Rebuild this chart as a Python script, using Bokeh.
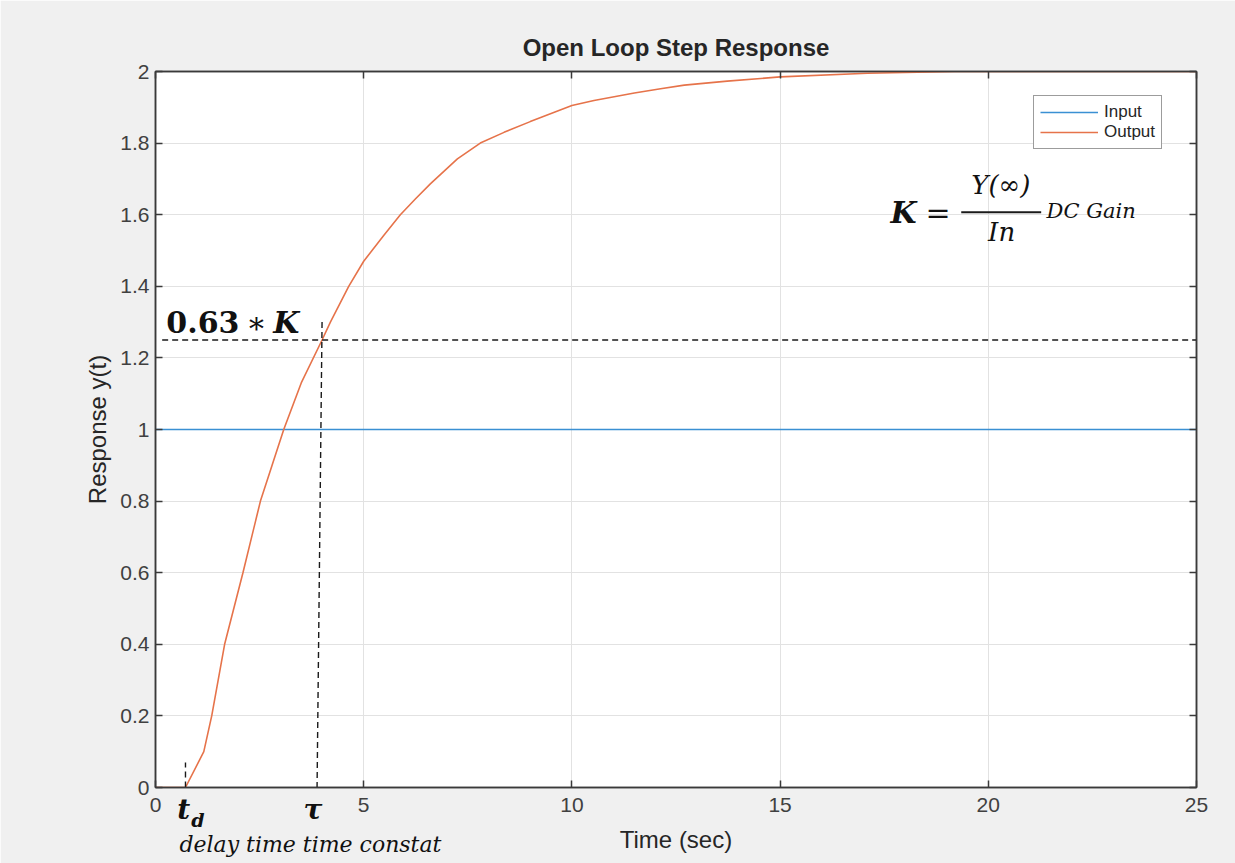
from bokeh.plotting import figure
from bokeh.models import Range1d, LinearAxis, FixedTicker, Label, Legend, LegendItem
from bokeh.embed import file_html
from bokeh.resources import INLINE

# ---- data ----
t_in = [0, 25]
y_in = [1, 1]

t_out = [0, 0.72, 1.16, 1.35, 1.66, 2.1, 2.52, 2.8, 3.08, 3.5, 4.0, 4.2, 4.64, 5.0, 5.48, 5.88,
         6.24, 6.6, 7.25, 7.8, 8.37, 9.0, 10.0, 10.53, 11.5, 12.13, 12.7, 13.73, 15.0, 17.1, 19.2, 25]
y_out = [0, 0, 0.10, 0.20, 0.40, 0.60, 0.80, 0.90, 1.00, 1.13, 1.25, 1.30, 1.40, 1.47, 1.542, 1.60,
         1.644, 1.686, 1.756, 1.80, 1.83, 1.86, 1.905, 1.919, 1.94, 1.952, 1.962, 1.973, 1.985, 1.995, 2.0, 2.0]

x_ticks = [0, 5, 10, 15, 20, 25]
x_tick_labels = ["0", "5", "10", "15", "20", "25"]
y_ticks = [0, 0.2, 0.4, 0.6, 0.8, 1.0, 1.2, 1.4, 1.6, 1.8, 2.0]
y_tick_labels = ["0", "0.2", "0.4", "0.6", "0.8", "1", "1.2", "1.4", "1.6", "1.8", "2"]

gain_level = 1.25          # 0.63*K
td = 0.72                  # delay time
tau_top = [4.0, 1.30]
tau_bottom = [3.88, 0.0]

title = "Open Loop Step Response"
x_label = "Time (sec)"
y_label = "Response y(t)"
series_names = ["Input", "Output"]

# annotation texts under the time axis, at the times they mark
sym_pos = [0.677, 3.78]
sym_txt = ["t", "\u03c4"]
sub_pos = [1.02]
sub_txt = ["d"]
note_pos = [3.72]
note_txt = ["delay time time constat"]
xlabel_pos = [12.5]

BLUE = "#3a90d3"
ORANGE = "#e6734a"
AX = "#3a3a3a"
TXT = "#262626"
SANS = "Liberation Sans"
SERIF = "DejaVu Serif"

p = figure(width=1235, height=863, output_backend="svg", toolbar_location=None,
           x_range=Range1d(0, 25), y_range=Range1d(0, 2),
           min_border_left=155, min_border_right=39, min_border_top=71, min_border_bottom=76,
           background_fill_color="white", border_fill_color="#f0f0f0",
           outline_line_color=AX, outline_line_width=1.5)

p.title.text = title
p.title.align = "center"
p.title.text_font = SANS
p.title.text_font_size = "24px"
p.title.text_font_style = "bold"
p.title.text_color = TXT
p.title.standoff = 22

xt = FixedTicker(ticks=x_ticks)
yt = FixedTicker(ticks=y_ticks)
p.xgrid.ticker = xt
p.ygrid.ticker = yt
p.grid.grid_line_color = "#e2e2e2"
p.grid.grid_line_width = 1

p.add_layout(LinearAxis(), "above")
p.add_layout(LinearAxis(), "right")

for ax in p.xaxis:
    ax.ticker = xt
    ax.major_label_overrides = {v: s for v, s in zip(x_ticks, x_tick_labels)}
for ax in p.yaxis:
    ax.ticker = yt
    ax.major_label_overrides = {v: s for v, s in zip(y_ticks, y_tick_labels)}

for ax in p.axis:
    ax.axis_line_color = AX
    ax.axis_line_width = 1.5
    ax.major_tick_line_color = AX
    ax.major_tick_line_width = 1.5
    ax.major_tick_in = 7
    ax.major_tick_out = 0
    ax.minor_tick_line_color = None
    ax.major_label_text_font = SANS
    ax.major_label_text_font_size = "21px"
    ax.major_label_text_color = "#404040"
    ax.axis_label_text_font = SANS
    ax.axis_label_text_font_size = "24px"
    ax.axis_label_text_font_style = "normal"
    ax.axis_label_text_color = TXT

p.above[0].major_label_text_font_size = "0px"
p.right[0].major_label_text_font_size = "0px"

p.below[0].major_label_standoff = 10
p.left[0].axis_label = y_label
p.left[0].major_label_standoff = 6
p.left[0].axis_label_standoff = 6


def text_axis(pos, txt, font, size, style, standoff, color="#111111"):
    a = LinearAxis(ticker=FixedTicker(ticks=pos),
                   major_label_overrides={v: s for v, s in zip(pos, txt)})
    a.axis_line_color = None
    a.major_tick_line_color = None
    a.minor_tick_line_color = None
    a.major_tick_in = 0
    a.major_tick_out = 0
    a.major_label_standoff = standoff
    a.major_label_text_font = font
    a.major_label_text_font_size = size
    a.major_label_text_font_style = style
    a.major_label_text_color = color
    p.add_layout(a, "below")


# bottom annotation rows (stacked under the tick labels)
text_axis(sym_pos, sym_txt, SERIF, "28px", "bold italic", -22)
text_axis(sub_pos, sub_txt, SERIF, "19px", "bold italic", -20)
text_axis(xlabel_pos, [x_label], SANS, "24px", "normal", -8, TXT)
text_axis(note_pos, note_txt, SERIF, "22px", "italic", -24)

# curves
r_in = p.line(t_in, y_in, line_color=BLUE, line_width=1.6)
r_out = p.line(t_out, y_out, line_color=ORANGE, line_width=1.6)

# dashed construction lines
p.segment(x0=[0.16], y0=[gain_level], x1=[25], y1=[gain_level],
          line_color="#1a1a1a", line_width=1.4, line_dash="6 4")
p.segment(x0=[tau_top[0]], y0=[tau_top[1]], x1=[tau_bottom[0]], y1=[tau_bottom[1]],
          line_color="#1a1a1a", line_width=1.4, line_dash="6 4")
p.segment(x0=[td], y0=[0.0], x1=[td], y1=[0.07],
          line_color="#1a1a1a", line_width=1.4, line_dash="6 4")

# fraction bar for K = Y(inf)/In
p.segment(x0=[19.35], y0=[1.607], x1=[21.27], y1=[1.607], line_color="#1a1a1a", line_width=2)

legend = Legend(items=[LegendItem(label=series_names[0], renderers=[r_in]),
                       LegendItem(label=series_names[1], renderers=[r_out])],
                location=(878, 638))
legend.label_text_font = SANS
legend.label_text_font_size = "17px"
legend.label_text_color = TXT
legend.border_line_color = "#3a3a3a"
legend.border_line_width = 1.3
legend.background_fill_color = "white"
legend.background_fill_alpha = 1.0
legend.glyph_width = 58
legend.glyph_height = 20
legend.label_height = 20
legend.label_standoff = 6
legend.padding = 6
legend.spacing = 0
legend.margin = 0
p.add_layout(legend, "center")


def lab(txt, x, y, size, style="normal", font=SERIF, align="left", baseline="alphabetic",
        color="#111111"):
    p.add_layout(Label(x=x, y=y, text=txt, text_font=font, text_font_size=size,
                       text_font_style=style, text_align=align, text_baseline=baseline,
                       text_color=color))


# annotations inside the axes
lab("0.63", 0.26, 1.30, "30px", "bold")
lab("\u2217", 2.18, 1.30, "30px", "normal")
lab("K", 2.83, 1.30, "30px", "bold italic")
lab("K", 17.65, 1.607, "30px", "bold italic")
lab("=", 18.49, 1.607, "30px", "normal")
lab("Y(\u221e)", 20.3, 1.683, "26px", "italic", align="center")
lab("In", 20.32, 1.551, "26px", "italic", align="center")
lab("DC Gain", 21.40, 1.609, "21px", "italic")

open("out.html", "w").write(file_html(p, INLINE))
